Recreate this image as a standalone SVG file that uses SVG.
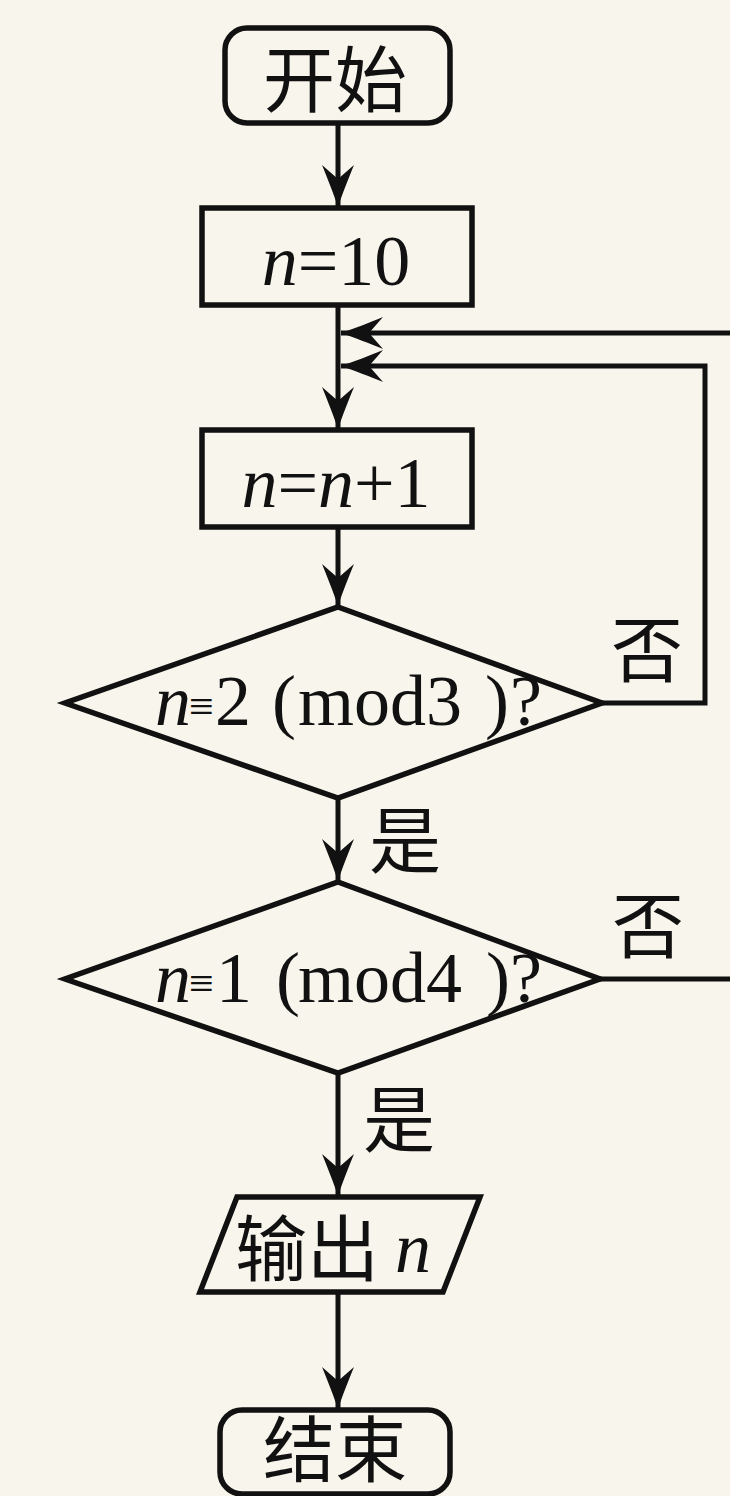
<svg xmlns="http://www.w3.org/2000/svg" width="730" height="1496" viewBox="0 0 730 1496">
<style>
.shape{fill:none;stroke:#111;stroke-width:5.5;stroke-linejoin:miter}
.conn{fill:none;stroke:#111;stroke-width:5}
.cjk{font-family:"Noto Sans CJK SC","Noto Sans CJK JP",sans-serif;font-size:72px;fill:#111}
.math{font-family:"Liberation Serif","Times New Roman",serif;font-size:72px;fill:#111}
.it{font-style:italic}
</style>
<defs>
<marker id="ah" viewBox="0 0 44 32" markerWidth="44" markerHeight="32" refX="42" refY="16" orient="auto" markerUnits="userSpaceOnUse">
<path d="M42,16 C30,12 12,5 0,0 L14,16 L0,32 C12,27 30,20 42,16 Z" fill="#111"/>
</marker>
</defs>
<rect x="0" y="0" width="730" height="1496" fill="#f8f5ec"/>

<g id="connectors">
<path class="conn" d="M338,123 V207" marker-end="url(#ah)"/>
<path class="conn" d="M338,305 V429" marker-end="url(#ah)"/>
<path class="conn" d="M338,527 V606" marker-end="url(#ah)"/>
<path class="conn" d="M338,798 V881" marker-end="url(#ah)"/>
<path class="conn" d="M338,1073 V1196" marker-end="url(#ah)"/>
<path class="conn" d="M338,1292 V1409" marker-end="url(#ah)"/>
<path class="conn" d="M602,703 H705 V366 H341" marker-end="url(#ah)"/>
<path class="conn" d="M600,979 H760 V333 H341" marker-end="url(#ah)"/>
<text class="cjk" x="647" y="676" text-anchor="middle">否</text>
<text class="cjk" x="648" y="952" text-anchor="middle">否</text>
<text class="cjk" x="405" y="867" text-anchor="middle">是</text>
<text class="cjk" x="399" y="1146" text-anchor="middle">是</text>
</g>

<g id="start">
<rect class="shape" x="225" y="28" width="225" height="95" rx="22" ry="22"/>
<text class="cjk" x="335" y="106" text-anchor="middle">开始</text>
</g>

<g id="init">
<rect class="shape" x="202" y="208" width="270" height="97"/>
<text class="math" x="336" y="285" text-anchor="middle" font-size="74"><tspan class="it">n</tspan>=10</text>
</g>

<g id="increment">
<rect class="shape" x="202" y="430" width="270" height="97"/>
<text class="math" x="336" y="507" text-anchor="middle" font-size="74"><tspan class="it">n</tspan>=<tspan class="it">n</tspan>+1</text>
</g>

<g id="cond1">
<polygon class="shape" points="338,607 602,703 338,798 65,703"/>
<text class="math" y="725" font-size="70"><tspan class="it" x="155">n</tspan><tspan x="189" font-size="44" dy="-4">≡</tspan><tspan x="215" dy="4">2</tspan><tspan x="272">(</tspan><tspan x="298">mod3</tspan><tspan x="485">)</tspan><tspan x="510">?</tspan></text>
</g>

<g id="cond2">
<polygon class="shape" points="338,882 600,979 338,1073 65,979"/>
<text class="math" y="1002" font-size="70"><tspan class="it" x="155">n</tspan><tspan x="189" font-size="44" dy="-4">≡</tspan><tspan x="216" dy="4">1</tspan><tspan x="276">(</tspan><tspan x="298">mod4</tspan><tspan x="486">)</tspan><tspan x="510">?</tspan></text>
</g>

<g id="output">
<polygon class="shape" points="237,1197 480,1197 443,1292 200,1292"/>
<text class="cjk" x="235" y="1275">输出</text>
<text class="math it" x="395" y="1272" font-size="70">n</text>
</g>

<g id="end">
<rect class="shape" x="220" y="1410" width="230" height="84" rx="22" ry="22"/>
<text class="cjk" x="335" y="1476" text-anchor="middle" font-size="68">结束</text>
</g>
</svg>
